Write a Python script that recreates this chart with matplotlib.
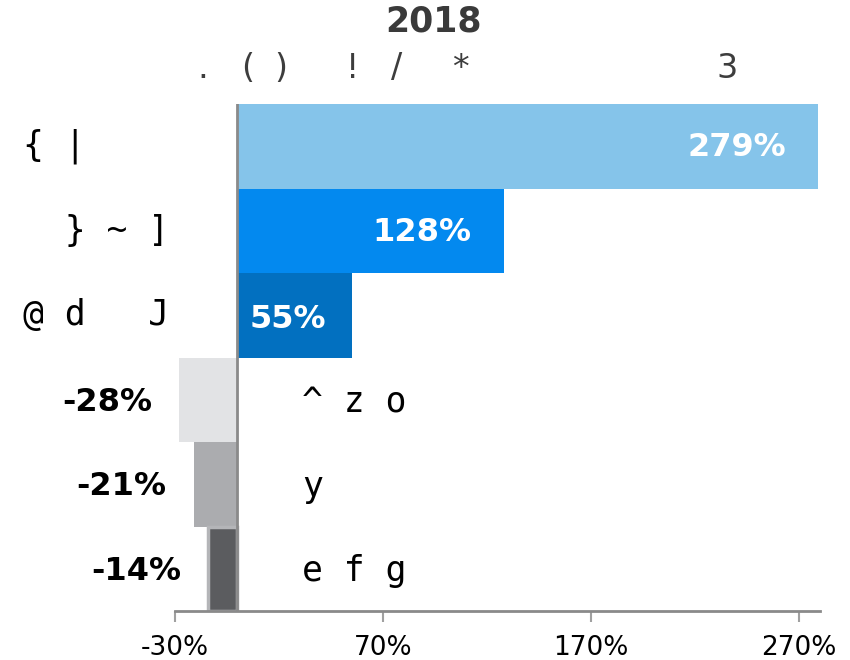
import matplotlib
matplotlib.use("Agg")
import matplotlib.pyplot as plt

# ---- data ----
categories = ["{ |", "  } ~ ]", "@ d   J", "^ z o", "y", "e f g"]
values = [279, 128, 55, -28, -21, -14]
bar_colors = ["#85C4EA", "#0389EF", "#0270C0", "#E2E3E5", "#ABACAF", "#5B5C5F"]
xticks = [-30, 70, 170, 270]
xtick_labels = ["-30%", "70%", "170%", "270%"]
title = "2018"
subtitle_parts = [".", "(", ")", "!", "/", "*", "3"]

# ---- layout ----
W, H = 850, 660
fig = plt.figure(figsize=(W / 100, H / 100), dpi=100)
ax = fig.add_axes([175 / W, 1 - 611 / H, 645 / W, 507 / H])

edges = ["none"] * (len(values) - 1) + ["#B4B5B8"]
lws = [0] * (len(values) - 1) + [2.5]
y = list(range(len(values)))
ax.barh(y, values, height=1.0, color=bar_colors, edgecolor=edges, linewidth=lws, zorder=2)
ax.axvline(0, color="#8A8A8A", lw=2, zorder=4)

ax.set_xlim(-30, 280)
ax.set_ylim(len(values) - 0.5, -0.5)

for s in ["top", "right", "left"]:
    ax.spines[s].set_visible(False)
ax.spines["bottom"].set_color("#8A8A8A")
ax.spines["bottom"].set_linewidth(2)
ax.set_yticks([])
ax.set_xticks(xticks)
ax.set_xticklabels(xtick_labels)
ax.tick_params(axis="x", direction="out", length=8, width=1.5, color="#A0A0A0",
               labelsize=19, pad=9, labelcolor="black")


def dx(pixels):
    return pixels / 2.08


mono = "DejaVu Sans Mono"
for i, (cat, v) in enumerate(zip(categories, values)):
    lab = f"{v}%"
    if v > 0:
        xr = v - dx(32)
        w_est = dx(26 * len(lab))
        if xr - w_est < dx(13):
            ax.text(dx(12), i + 0.05, lab, ha="left", va="center", color="white",
                    fontsize=23, fontweight="bold", zorder=5)
        else:
            ax.text(xr, i + 0.02, lab, ha="right", va="center", color="white",
                    fontsize=23, fontweight="bold", zorder=5)
        ax.text(dx(23 - 237.4), i, cat, ha="left", va="center", family=mono,
                fontsize=25, color="black", clip_on=False)
    else:
        ax.text(v - dx(27), i + 0.03, lab, ha="right", va="center", color="black",
                fontsize=23, fontweight="bold", clip_on=False)
        ax.text(dx(302 - 237.4), i + 0.03, cat, ha="left", va="center", family=mono,
                fontsize=25, color="black")

fig.text(433 / W, 1 - 21 / H, title, ha="center", va="center", fontsize=25,
         fontweight="bold", color="#3A3A3A")
sub_x = [203, 248, 281, 353, 397, 460, 727]
for ch, xp in zip(subtitle_parts, sub_x):
    fig.text(xp / W, 1 - 68 / H, ch, ha="center", va="center", fontsize=24,
             color="#3D3D3D")

fig.savefig("out.png", dpi=100)
